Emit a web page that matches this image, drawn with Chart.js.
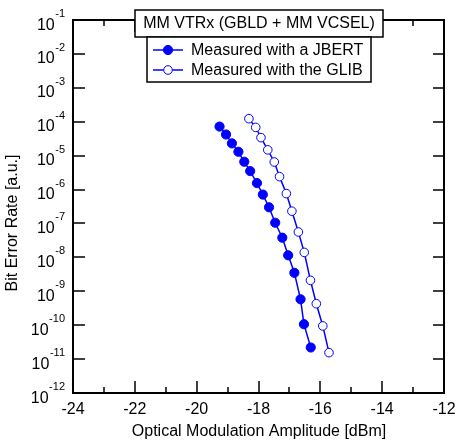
<!DOCTYPE html>
<html>
<head>
<meta charset="utf-8">
<script src="https://cdn.jsdelivr.net/npm/chart.js@4"></script>
<style>
html,body{margin:0;padding:0;background:#fff;}
#wrap{width:456px;height:441px;}
</style>
</head>
<body>
<div id="wrap"><canvas id="c" width="456" height="441"></canvas></div>
<script>
// ---- data ----
const chartTitle = "MM VTRx (GBLD + MM VCSEL)";
const seriesNames = ["Measured with a JBERT", "Measured with the GLIB"];
const jbertOMA = [-19.26,-19.05,-18.86,-18.65,-18.46,-18.27,-18.05,-17.86,-17.66,-17.46,-17.23,-17.04,-16.84,-16.64,-16.53,-16.31];
const jbertBER = [7.2e-5,4.2e-5,2.3e-5,1.3e-5,6.6e-6,3.5e-6,1.55e-6,7.1e-7,3.0e-7,1.05e-7,3.8e-8,1.15e-8,3.5e-9,5.8e-10,1.07e-10,2.2e-11];
const glibOMA = [-18.31,-18.09,-17.92,-17.70,-17.49,-17.32,-17.10,-16.92,-16.71,-16.52,-16.32,-16.13,-15.92,-15.72];
const glibBER = [1.23e-4,6.8e-5,3.4e-5,1.48e-5,6.5e-6,2.4e-6,7.6e-7,2.3e-7,5.6e-8,1.4e-8,2.1e-9,4.3e-10,9.5e-11,1.55e-11];
const xTickValues = [-24,-22,-20,-18,-16,-14,-12];
const xMinorValues = [-23,-21,-19,-17,-15,-13];
const yTickExponents = [-1,-2,-3,-4,-5,-6,-7,-8,-9,-10,-11,-12];
const xTitle = "Optical Modulation Amplitude [dBm]";
const yTitle = "Bit Error Rate [a.u.]";

const FONT = "'Liberation Sans', Arial, sans-serif";
const BLUE = "#0000FF";

const toPts = (xs, ys) => xs.map((x, i) => ({x: x, y: ys[i]}));

const framePlugin = {
  id: 'frame',
  afterDatasetsDraw(chart) {
    const ctx = chart.ctx;
    const a = chart.chartArea;
    const xs = chart.scales.x, ys = chart.scales.y;
    ctx.save();
    ctx.strokeStyle = '#000';
    ctx.lineWidth = 2;
    ctx.strokeRect(a.left, a.top, a.right - a.left, a.bottom - a.top);
    ctx.lineWidth = 1.5;
    ctx.beginPath();
    yTickExponents.forEach(e => {
      const py = Math.round(ys.getPixelForValue(Math.pow(10, e)));
      ctx.moveTo(a.left, py); ctx.lineTo(a.left + 12, py);
      ctx.moveTo(a.right, py); ctx.lineTo(a.right - 11, py);
    });
    xTickValues.forEach(v => {
      const px = Math.round(xs.getPixelForValue(v));
      ctx.moveTo(px, a.bottom); ctx.lineTo(px, a.bottom - 12);
      ctx.moveTo(px, a.top); ctx.lineTo(px, a.top + 12);
    });
    xMinorValues.forEach(v => {
      const px = Math.round(xs.getPixelForValue(v));
      ctx.moveTo(px, a.bottom); ctx.lineTo(px, a.bottom - 6);
      ctx.moveTo(px, a.top); ctx.lineTo(px, a.top + 6);
    });
    ctx.stroke();

    ctx.fillStyle = '#000';
    ctx.font = "16px " + FONT;
    ctx.textAlign = 'center';
    ctx.textBaseline = 'middle';
    xTickValues.forEach(v => {
      const px = xs.getPixelForValue(v);
      ctx.fillText(String(v), px, a.bottom + 17);
    });
    yTickExponents.forEach(e => {
      const py = ys.getPixelForValue(Math.pow(10, e));
      const sup = String(e);
      ctx.font = "11px " + FONT;
      const sw = ctx.measureText(sup).width;
      const rightEdge = a.left - 8;
      ctx.textAlign = 'right';
      ctx.textBaseline = 'alphabetic';
      ctx.fillText(sup, rightEdge, py - 3);
      ctx.font = "16px " + FONT;
      ctx.fillText("10", rightEdge - sw - 0.5, py + 9.5);
    });
    ctx.font = "16px " + FONT;
    ctx.textAlign = 'center';
    ctx.textBaseline = 'middle';
    ctx.fillText(xTitle, 259, 432);
    ctx.save();
    ctx.translate(13, 223);
    ctx.rotate(-Math.PI / 2);
    ctx.fillText(yTitle, 0, 0);
    ctx.restore();
    ctx.restore();
  },
  afterDraw(chart) {
    const ctx = chart.ctx;
    ctx.save();
    ctx.fillStyle = '#fff';
    ctx.strokeStyle = '#000';
    ctx.lineWidth = 1.5;
    ctx.fillRect(135, 10, 248, 27);
    ctx.strokeRect(135, 10, 248, 27);
    ctx.fillStyle = '#000';
    ctx.font = "16px " + FONT;
    ctx.textAlign = 'center';
    ctx.textBaseline = 'middle';
    ctx.fillText(chartTitle, 259, 24);
    ctx.fillStyle = '#fff';
    ctx.fillRect(147, 37, 224, 45);
    ctx.strokeRect(147, 37, 224, 45);
    const rows = [50, 70];
    chart.data.datasets.forEach((ds, i) => {
      const y = rows[i];
      ctx.strokeStyle = ds.borderColor;
      ctx.lineWidth = 1.5;
      ctx.beginPath(); ctx.moveTo(153, y); ctx.lineTo(183, y); ctx.stroke();
      ctx.beginPath();
      ctx.arc(168, y, ds.pointRadius, 0, Math.PI * 2);
      ctx.fillStyle = ds.pointBackgroundColor;
      ctx.fill();
      ctx.lineWidth = ds.pointBorderWidth;
      ctx.strokeStyle = ds.pointBorderColor;
      ctx.stroke();
      ctx.fillStyle = '#000';
      ctx.textAlign = 'left';
      ctx.fillText(ds.label, 191, y + 0.5);
    });
    ctx.restore();
  }
};

new Chart(document.getElementById('c'), {
  type: 'line',
  data: {
    datasets: [
      {
        label: seriesNames[0],
        data: toPts(jbertOMA, jbertBER),
        borderColor: BLUE, borderWidth: 1.5,
        pointRadius: 4.6, pointBackgroundColor: BLUE,
        pointBorderColor: BLUE, pointBorderWidth: 1,
        tension: 0
      },
      {
        label: seriesNames[1],
        data: toPts(glibOMA, glibBER),
        borderColor: BLUE, borderWidth: 1.5,
        pointRadius: 4.3, pointBackgroundColor: '#fff',
        pointBorderColor: BLUE, pointBorderWidth: 1,
        tension: 0
      }
    ]
  },
  options: {
    responsive: false,
    animation: false,
    devicePixelRatio: 1,
    layout: { padding: { left: 0, right: 12, top: 20, bottom: 0 } },
    plugins: { legend: { display: false }, tooltip: { enabled: false }, title: { display: false } },
    scales: {
      x: {
        type: 'linear', min: -24, max: -12,
        grid: { display: false, drawTicks: false },
        border: { display: false },
        ticks: { display: false },
        afterFit: s => { s.height = 48; }
      },
      y: {
        type: 'logarithmic', min: 1e-12, max: 1e-1,
        grid: { display: false, drawTicks: false },
        border: { display: false },
        ticks: { display: false },
        afterFit: s => { s.width = 73; }
      }
    }
  },
  plugins: [framePlugin]
});
</script>
</body>
</html>
